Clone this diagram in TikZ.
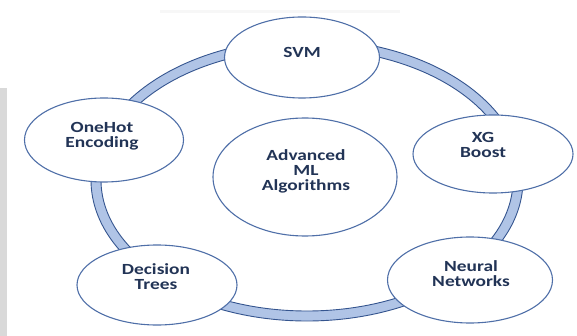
\documentclass[tikz,border=0pt]{standalone}
\usepackage{fontspec}
\newfontfamily\tagfont{Carlito}[FakeStretch=1.25]
\usepackage{xcolor}
\usetikzlibrary{shapes.geometric}
\definecolor{ringfill}{HTML}{B0C4E6}
\definecolor{ringedge}{HTML}{35558F}
\definecolor{nodeedge}{HTML}{4F6FA8}
\definecolor{tagtext}{HTML}{223456}
\tikzset{
	algo/.style={draw=nodeedge, line width=1.1pt, fill=white, ellipse, inner sep=0pt},
	tag/.style={font=\tagfont\bfseries\fontsize{15.5}{15}\selectfont, text=tagtext, align=center, inner sep=0pt},
	ring/.style={draw=ringedge, line width=0.9pt, fill=ringfill, even odd rule}
}

\begin{document}
\begin{tikzpicture}[x=1pt, y=-1pt]
	\useasboundingbox (0,0) rectangle (577,336);
	% scanned page edge
	\fill[gray!30] (0,88) rectangle (7,336);
	\fill[gray!6] (160,10) rectangle (400,13);
	
	% the band behind the bubbles
	\path[ring] (307,180) ellipse [x radius=216, y radius=141]
	            (307,180) ellipse [x radius=206, y radius=131];
	
	\node[algo, minimum width=184, minimum height=118] (core) at (305,177) {};
	\node[algo, minimum width=155, minimum height=81] (svm) at (302,57.5) {};
	\node[algo, minimum width=160, minimum height=78] (xgb) at (493,154) {};
	\node[algo, minimum width=165, minimum height=86] (nnet) at (470,280) {};
	\node[algo, minimum width=160, minimum height=80] (dtree) at (157,285) {};
	\node[algo, minimum width=159, minimum height=84] (onehot) at (104,140) {};
	
	\node[tag] (core-label) at (306,171) {Advanced\\ML\\Algorithms};
	\node[tag] (svm-label) at (302,52) {SVM};
	\node[tag] (xgb-label) at (483,145) {XG\\Boost};
	\node[tag] (nnet-label) at (471,274) {Neural\\Networks};
	\node[tag] (dtree-label) at (156,277) {Decision\\Trees};
	\node[tag] (onehot-label) at (102,136) {OneHot\\Encoding};
\end{tikzpicture}
\end{document}
